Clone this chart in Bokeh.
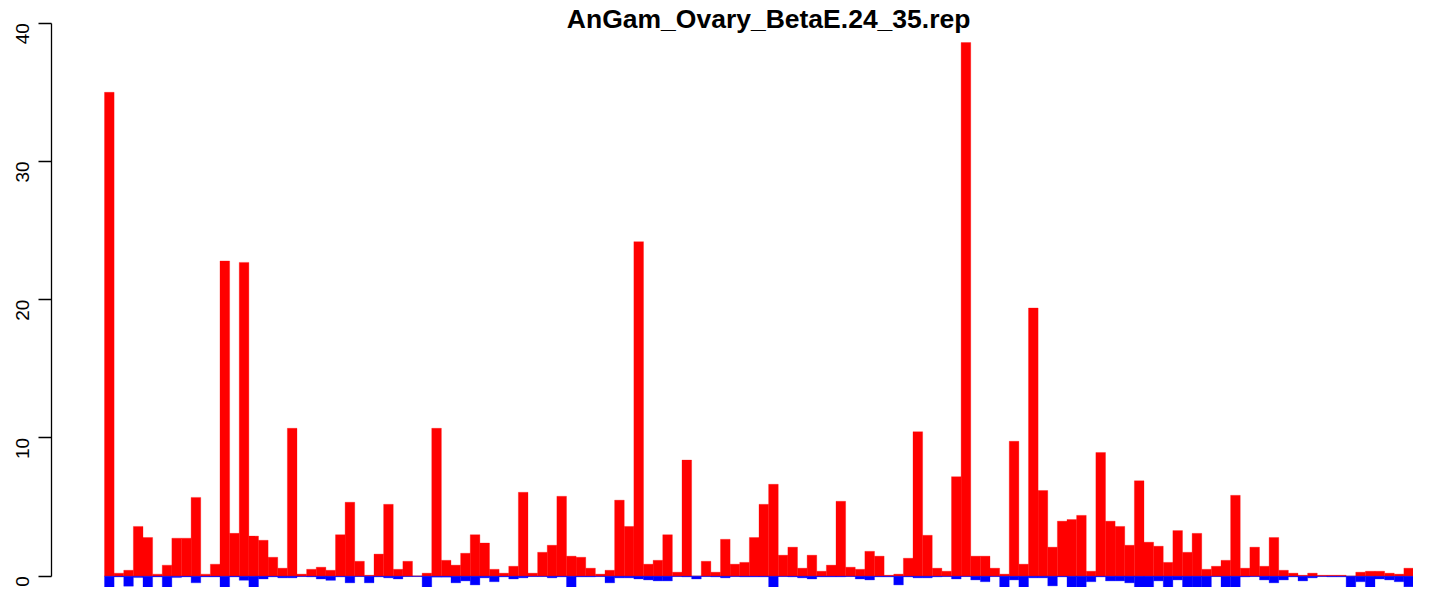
import math
from bokeh.plotting import figure
from bokeh.models import FixedTicker, Label, Range1d, ColumnDataSource
from bokeh.embed import file_html
from bokeh.resources import INLINE

title_text = "AnGam_Ovary_BetaE.24_35.rep"
y_ticks = [0, 10, 20, 30, 40]

red_values = [
    35.0, 0.22, 0.43, 3.6, 2.8, 0.15, 0.8, 2.75, 2.75, 5.7,
    0.15, 0.87, 22.8, 3.1, 22.7, 2.9, 2.6, 1.37, 0.58, 10.7,
    0.15, 0.5, 0.65, 0.43, 3.0, 5.35, 1.08, 0.07, 1.6, 5.2,
    0.5, 1.08, 0.02, 0.22, 10.7, 1.15, 0.8, 1.66, 3.0, 2.4,
    0.5, 0.22, 0.72, 6.07, 0.22, 1.73, 2.24, 5.78, 1.45, 1.37,
    0.58, 0.15, 0.43, 5.5, 3.6, 24.2, 0.87, 1.15, 3.0, 0.29,
    8.4, 0.0, 1.08, 0.29, 2.67, 0.87, 1.0, 2.8, 5.2, 6.65,
    1.52, 2.1, 0.58, 1.52, 0.36, 0.8, 5.42, 0.65, 0.5, 1.8,
    1.45, 0.07, 0.15, 1.3, 10.45, 2.96, 0.58, 0.36, 7.2, 38.6,
    1.45, 1.45, 0.58, 0.15, 9.76, 0.87, 19.4, 6.2, 2.1, 3.98,
    4.1, 4.4, 0.36, 8.95, 3.98, 3.6, 2.24, 6.9, 2.46, 2.17,
    1.0, 3.3, 1.73, 3.1, 0.5, 0.72, 1.15, 5.85, 0.58, 2.1,
    0.72, 2.8, 0.43, 0.22, 0.07, 0.22, 0.07, 0.07, 0.07, 0.0,
    0.29, 0.36, 0.36, 0.22, 0.15, 0.58, 0.65, 0.65,
]

blue_values = [
    -1.66, -0.05, -0.72, -0.1, -1.2, -0.05, -1.45, -0.1, -0.05, -0.48,
    -0.05, -0.05, -1.52, -0.05, -0.3, -1.0, -0.2, -0.05, -0.12, -0.12,
    -0.03, -0.05, -0.2, -0.3, -0.05, -0.48, -0.03, -0.48, -0.05, -0.12,
    -0.2, -0.03, -0.03, -1.2, -0.07, -0.07, -0.48, -0.34, -0.63, -0.12,
    -0.4, -0.05, -0.2, -0.12, -0.03, -0.03, -0.12, -0.05, -0.84, -0.05,
    -0.05, -0.03, -0.48, -0.12, -0.12, -0.2, -0.27, -0.34, -0.34, -0.03,
    -0.05, -0.2, -0.03, -0.05, -0.12, -0.03, -0.05, -0.05, -0.05, -1.37,
    -0.03, -0.05, -0.12, -0.2, -0.05, -0.05, -0.05, -0.03, -0.2, -0.27,
    -0.05, -0.05, -0.63, -0.05, -0.12, -0.12, -0.05, -0.03, -0.2, -0.03,
    -0.27, -0.4, -0.03, -1.2, -0.27, -1.0, -0.12, -0.12, -0.7, -0.05,
    -1.0, -1.13, -0.4, -0.05, -0.34, -0.34, -0.48, -1.28, -1.64, -0.34,
    -1.06, -0.27, -1.78, -2.0, -1.28, -0.03, -2.0, -1.0, -0.05, -0.03,
    -0.27, -0.48, -0.27, -0.05, -0.34, -0.12, -0.03, -0.05, -0.05, -2.0,
    -0.4, -0.84, -0.2, -0.27, -0.4, -0.77, -1.06, -1.06,
]

n = len(red_values)
lefts = list(range(n))
rights = [i + 1 for i in lefts]

src = ColumnDataSource(dict(left=lefts, right=rights, red=red_values,
                            blue=blue_values, zero=[0] * n))

p = figure(width=1413, height=587, output_backend="svg", toolbar_location=None,
           x_range=Range1d(-5.506, 136.0), y_range=Range1d(-0.817, 41.642),
           min_border_left=51, min_border_right=0, min_border_top=0,
           min_border_bottom=0, x_axis_location=None)
p.outline_line_color = None
p.grid.visible = False
p.background_fill_color = "white"
p.border_fill_color = "white"

# grey baseline under the bars
p.line(x=[0, n], y=[0, 0], line_color="#BEBEBE", line_width=1.5)

p.quad(left="left", right="right", top="red", bottom="zero", source=src,
       fill_color="#FF0000", line_color="#FF0000", line_width=0.3)
p.quad(left="left", right="right", top="zero", bottom="blue", source=src,
       fill_color="#0000FF", line_color="#0000FF", line_width=0.3)

ax = p.yaxis[0]
ax.ticker = FixedTicker(ticks=y_ticks)
ax.bounds = (0, 40)
ax.minor_tick_line_color = None
ax.major_tick_in = 0
ax.major_tick_out = 13
ax.major_label_standoff = 16
ax.major_label_orientation = math.pi / 2
ax.major_label_text_font = "Liberation Sans"
ax.major_label_text_font_size = "19px"
ax.major_label_text_color = "black"
ax.axis_line_width = 1.3
ax.major_tick_line_width = 1.3
ax.axis_line_color = "black"
ax.major_tick_line_color = "black"

p.add_layout(Label(x=69.0, y=40.30, text=title_text, text_align="center",
                   text_baseline="alphabetic", text_font="Liberation Sans",
                   text_font_style="bold", text_font_size="26.5px",
                   text_color="black"))

open("out.html", "w").write(file_html(p, INLINE))
